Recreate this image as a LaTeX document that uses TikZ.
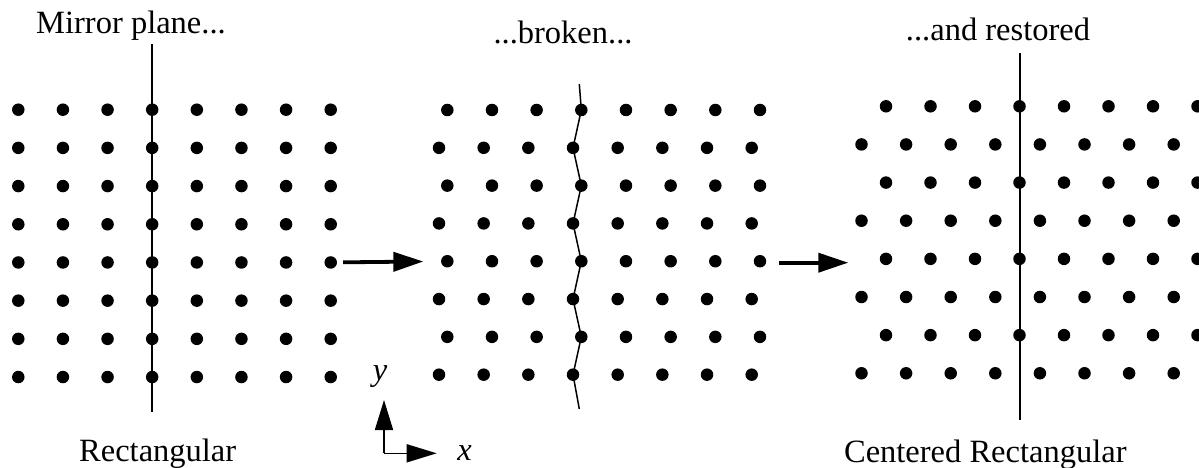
\documentclass[tikz,border=0pt]{standalone}
\usepackage{fontspec}
\setmainfont{Liberation Serif}
\usetikzlibrary{
  arrows.meta,
  positioning
}

\begin{document}
\begin{tikzpicture}[
  x=1pt, y=-1pt,
  every node/.style={font=\fontsize{32.5}{39}\selectfont},
  site/.style={circle, fill=black, inner sep=0pt, minimum size=12.5pt},
  mirror/.style={draw=black, line width=1.5pt},
  bigarrow/.style={line width=3.8pt, -{Triangle[length=30pt,width=19pt]}},
  axisarrow/.style={line width=1.6pt, -{Triangle[length=30pt,width=18pt]}},
  headtext/.style={inner sep=0pt, anchor=base}
]
  \useasboundingbox (0,0) rectangle (1199,468);

  % rectangular lattice
  \foreach \i in {1,...,8} {
    \foreach \j in {1,...,8} {
      \node[site] (r-\i-\j) at ({18.3+44.63*(\i-1)}, {109.7+38.19*(\j-1)}) {};
    }
  }
  \coordinate (rtop) at (152,44.3);
  \coordinate (rbot) at (152,411.7);
  \draw[mirror] (rtop) -- (rbot);

  % broken lattice
  \foreach \j in {1,3,5,7} {
    \foreach \i in {1,...,8} {
      \node[site] (m-\i-\j) at ({447.3+44.67*(\i-1)}, {110+37.81*(\j-1)}) {};
    }
  }
  \foreach \j in {2,4,6,8} {
    \foreach \i in {1,...,8} {
      \node[site] (m-\i-\j) at ({439+44.67*(\i-1)}, {110+37.81*(\j-1)}) {};
    }
  }
  \coordinate (mtop) at (579.3,84);
  \coordinate (mbot) at (579.3,409);
  \draw[mirror] (mtop) -- (m-4-1.center) -- (m-4-2.center) -- (m-4-3.center)
    -- (m-4-4.center) -- (m-4-5.center) -- (m-4-6.center) -- (m-4-7.center)
    -- (m-4-8.center) -- (mbot);

  % centered rectangular lattice
  \foreach \j in {1,3,5,7} {
    \foreach \i in {1,...,8} {
      \node[site] (c-\i-\j) at ({886+44.5*(\i-1)}, {106.3+38.14*(\j-1)}) {};
    }
  }
  \foreach \j in {2,4,6,8} {
    \foreach \i in {1,...,8} {
      \node[site] (c-\i-\j) at ({861.5+44.6*(\i-1)}, {106.3+38.14*(\j-1)}) {};
    }
  }
  \coordinate (ctop) at (1020,53.3);
  \coordinate (cbot) at (1020,420);
  \draw[mirror] (ctop) -- (cbot);

  % arrows between the stages
  \draw[bigarrow, shorten <=6pt, shorten >=17.5pt] (r-8-5) -- (m-1-5);
  \coordinate (a2s) at (779.3,262.7);
  \coordinate (a2e) at (848.3,262.7);
  \draw[bigarrow] (a2s) -- (a2e);

  % axes
  \coordinate (ax) at (384,453.3);
  \coordinate (ay) at (384,400);
  \coordinate (axx) at (436.7,453.3);
  \draw[axisarrow] (ax) -- (ay);
  \draw[axisarrow] (ax) -- (axx);
  \node[headtext] (ylab) at (380,380) {\textit{y}};
  \node[headtext] (xlab) at (464.5,460) {\textit{x}};

  % captions
  \node[headtext] (t-mirror) at (131,33.3) {Mirror plane...};
  \node[headtext] (t-broken) at (563,43.3) {...broken...};
  \node[headtext] (t-restored) at (998,40.7) {...and restored};
  \node[headtext] (t-rect) at (157.7,461.7) {Rectangular};
  \node[headtext] (t-crect) at (985.3,462) {Centered Rectangular};
\end{tikzpicture}
\end{document}
